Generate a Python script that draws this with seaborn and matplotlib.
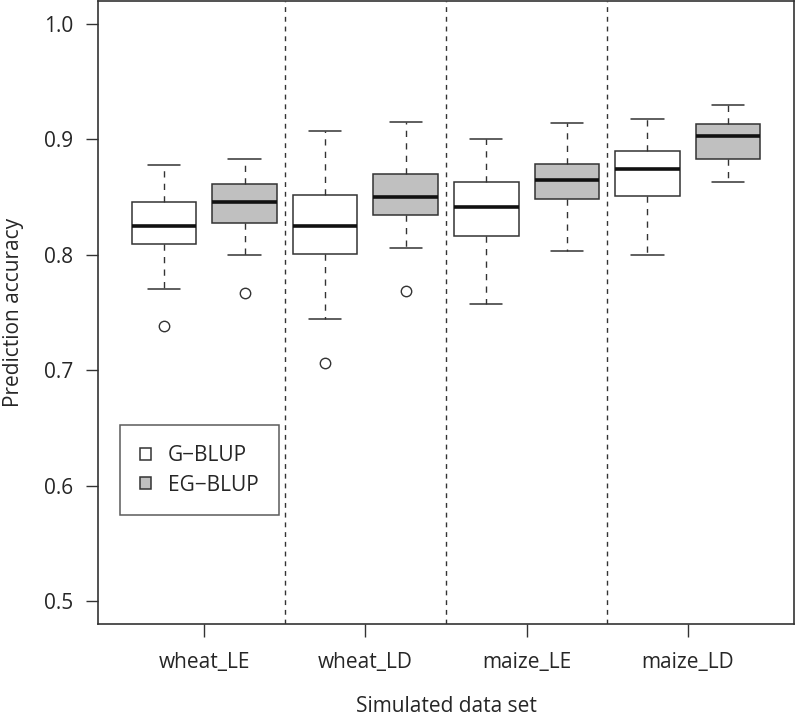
import matplotlib
matplotlib.use("Agg")
import matplotlib.pyplot as plt
import seaborn as sns
from matplotlib.patches import Patch

# Data (five-number summaries per box)
datasets = ["wheat_LE", "wheat_LD", "maize_LE", "maize_LD"]
methods = ["G\u2212BLUP", "EG\u2212BLUP"]

g_low = [0.770, 0.744, 0.7575, 0.800]
g_q1 = [0.8095, 0.8005, 0.816, 0.8506]
g_med = [0.8248, 0.8254, 0.8416, 0.874]
g_q3 = [0.846, 0.8517, 0.863, 0.890]
g_high = [0.8778, 0.907, 0.9006, 0.918]
g_out = [[0.7387], [0.7063], [], []]

eg_low = [0.800, 0.8057, 0.803, 0.8627]
eg_q1 = [0.8274, 0.8343, 0.848, 0.8827]
eg_med = [0.8454, 0.8503, 0.865, 0.9029]
eg_q3 = [0.8616, 0.8703, 0.8786, 0.913]
eg_high = [0.8833, 0.9147, 0.9139, 0.9295]
eg_out = [[0.767], [0.7688], [], []]

fills = ["white", "#c0c0c0"]

sns.set_style("ticks")
plt.rcParams['font.family'] = ['Open Sans', 'DejaVu Sans']

fig = plt.figure(figsize=(7.96, 7.18), dpi=100)
ax = fig.add_axes([0.1231, 0.1309, 0.8744, 0.8677])

# build stats for matplotlib's bxp in the order G, EG per dataset
stats = []
colors = []
for i in range(len(datasets)):
    stats.append(dict(whislo=g_low[i], q1=g_q1[i], med=g_med[i], q3=g_q3[i],
                      whishi=g_high[i], fliers=g_out[i]))
    colors.append(fills[0])
    stats.append(dict(whislo=eg_low[i], q1=eg_q1[i], med=eg_med[i], q3=eg_q3[i],
                      whishi=eg_high[i], fliers=eg_out[i]))
    colors.append(fills[1])

positions = list(range(1, len(stats) + 1))
edge = "#333333"
bp = ax.bxp(stats, positions=positions, widths=0.8, patch_artist=True,
            showfliers=True,
            boxprops=dict(edgecolor=edge, linewidth=1.1),
            medianprops=dict(color="#111111", linewidth=2.6, solid_capstyle="butt"),
            whiskerprops=dict(color=edge, linewidth=1.0, linestyle=(0, (4.5, 4.5))),
            capprops=dict(color=edge, linewidth=1.1),
            capwidths=0.4,
            flierprops=dict(marker="o", markersize=7.5, markerfacecolor="none",
                            markeredgecolor=edge, markeredgewidth=1.0))
for patch, c in zip(bp["boxes"], colors):
    patch.set_facecolor(c)

# separators between data sets
for xv in [2.5, 4.5, 6.5]:
    ax.axvline(xv, color=edge, linewidth=1.0, linestyle=(0, (3.5, 3.5)), zorder=0)

ax.set_xlim(0.18, 8.82)
ax.set_ylim(0.48, 1.02)
ax.set_yticks([0.5, 0.6, 0.7, 0.8, 0.9, 1.0])
ax.set_yticklabels(["0.5", "0.6", "0.7", "0.8", "0.9", "1.0"])
ax.set_xticks([1.5, 3.5, 5.5, 7.5])
ax.set_xticklabels(datasets)
ax.tick_params(axis="both", length=9, width=1.0, color=edge, labelsize=15, pad=9)
ax.tick_params(axis="x", pad=11)
for s in ax.spines.values():
    s.set_color(edge)
    s.set_linewidth(1.2)

ax.set_xlabel("Simulated data set", fontsize=15, labelpad=17)
ax.set_ylabel("Prediction accuracy", fontsize=15, labelpad=14)

handles = [Patch(facecolor=fills[0], edgecolor=edge, linewidth=1.1),
           Patch(facecolor=fills[1], edgecolor=edge, linewidth=1.1)]
leg = ax.legend(handles, methods, loc="lower left", bbox_to_anchor=(0.0318, 0.1744),
                fontsize=15, frameon=True, fancybox=False, handlelength=0.55,
                handleheight=0.55, handletextpad=0.8, borderpad=0.95, labelspacing=0.4,
                borderaxespad=0)
leg.get_frame().set_edgecolor(edge)
leg.get_frame().set_linewidth(1.1)

fig.savefig("out.png", dpi=100)
